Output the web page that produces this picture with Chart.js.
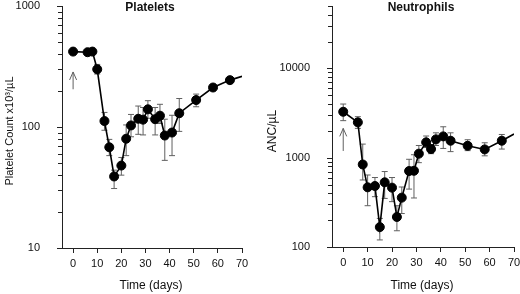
<!DOCTYPE html>
<html>
<head>
<meta charset="utf-8">
<script src="https://cdn.jsdelivr.net/npm/chart.js@4.4.0/dist/chart.umd.min.js"></script>
<style>
  body { margin: 0; background: #fff; }
  .panel { position: absolute; top: 0; width: 260px; height: 294px; }
</style>
</head>
<body>
<div class="panel" style="left:0"><canvas id="platelets" width="260" height="294"></canvas></div>
<div class="panel" style="left:260px"><canvas id="neutrophils" width="260" height="294"></canvas></div>
<script>
const days = [0, 6, 8, 10, 13, 15, 17, 20, 22, 24, 27, 29, 31, 34, 36, 38, 41, 44, 51, 58, 65];
const dayTicks = [0, 10, 20, 30, 40, 50, 60, 70];

const platelets = [420, 415, 420, 300, 112, 68, 39, 48, 80, 103, 117, 115, 140, 116, 124, 85, 90, 130, 167, 212, 244];
const plateletErr = [null, null, null, [274, 329], [94, 132], [58, 79], [31, 44], [40, 56], [58, 104], [83, 127],
  [87, 149], [86, 145], [118, 165], [86, 145], [107, 154], [53, 116], [58, 125], [92, 172], [147, 187], null, null];

const anc = [3270, 2490, 840, 466, 482, 167, 530, 462, 217, 357, 709, 714, 1110, 1486, 1250, 1604, 1733, 1550, 1360, 1238, 1550];
const ancErr = [[2600, 3990], [2130, 2880], [563, 1420], [290, 640], [366, 600], [120, 209], [350, 700], [322, 600],
  [152, 290], [237, 470], [445, 960], [354, 1080], [880, 1370], [1300, 1750], [1110, 1400], [1370, 1900],
  [1270, 2220], [1170, 1900], [1200, 1590], [1050, 1470], [1250, 1820]];

// line carries on past the last dot to the axis end
const lastDay = 70;
const plateletLast = 262;
const ancLast = 1840;

// treatment arrow at day 0
const arrowDay = 0;
const plateletArrow = [205, 285];
const ancArrow = [1190, 2130];

Chart.defaults.font.family = '"Liberation Sans", Arial, sans-serif';
Chart.defaults.color = '#111';

function isDecade(v) {
  const p = Math.log10(v);
  return Math.abs(p - Math.round(p)) < 1e-6;
}

const extras = {
  id: 'extras',
  beforeDatasetsDraw(chart, args, opts) {
    const ctx = chart.ctx;
    const x = chart.scales.x, y = chart.scales.y;
    ctx.save();

    // log ticks on the y axis, 1..9 per decade
    ctx.strokeStyle = '#222';
    ctx.lineWidth = 1;
    ctx.beginPath();
    for (let dec = y.min; dec < y.max; dec *= 10) {
      for (let k = 1; k <= 10; k++) {
        const v = dec * k;
        if (v > y.max * 1.0001) break;
        const py = Math.round(y.getPixelForValue(v)) + 0.5;
        const len = isDecade(v) ? 5 : 4;
        ctx.moveTo(y.right - len, py);
        ctx.lineTo(y.right, py);
      }
    }
    ctx.stroke();

    ctx.strokeStyle = '#606060';
    ctx.beginPath();
    opts.errors.forEach((e, i) => {
      if (!e) return;
      const px = x.getPixelForValue(days[i]);
      const lo = y.getPixelForValue(e[0]);
      const hi = y.getPixelForValue(e[1]);
      ctx.moveTo(px, lo); ctx.lineTo(px, hi);
      ctx.moveTo(px - 3, lo); ctx.lineTo(px + 3, lo);
      ctx.moveTo(px - 3, hi); ctx.lineTo(px + 3, hi);
    });
    ctx.stroke();

    const ax = x.getPixelForValue(arrowDay);
    const a0 = y.getPixelForValue(opts.arrow[0]);
    const a1 = y.getPixelForValue(opts.arrow[1]);
    ctx.beginPath();
    ctx.moveTo(ax, a0); ctx.lineTo(ax, a1);
    ctx.moveTo(ax - 3.5, a1 + 8); ctx.lineTo(ax, a1); ctx.lineTo(ax + 3.5, a1 + 8);
    ctx.stroke();
    ctx.restore();
  },
  afterDraw(chart, args, opts) {
    const ctx = chart.ctx;
    const area = chart.chartArea;
    const cx = (area.left + area.right) / 2;
    ctx.save();
    ctx.fillStyle = '#111';
    ctx.textAlign = 'center';
    ctx.textBaseline = 'middle';
    ctx.font = 'bold 12px "Liberation Sans", Arial, sans-serif';
    ctx.fillText(opts.title, cx - 2, 8);
    ctx.font = '12px "Liberation Sans", Arial, sans-serif';
    ctx.fillText('Time (days)', cx - 1, 286);
    ctx.translate(opts.yTitleX, 131);
    ctx.rotate(-Math.PI / 2);
    ctx.font = opts.yTitleSize + 'px "Liberation Sans", Arial, sans-serif';
    ctx.fillText(opts.yTitle, 0, 0);
    ctx.restore();
  }
};

function makeChart(id, values, errors, last, arrow, yMin, yMax, yWidth, padRight, xHeight, title, yTitle, yTitleX, yTitleSize) {
  const points = days.map((d, i) => ({ x: d, y: values[i] }));
  points.push({ x: lastDay, y: last });
  const n = days.length;

  return new Chart(document.getElementById(id), {
    type: 'line',
    data: {
      datasets: [{
        data: points,
        borderColor: '#000',
        borderWidth: 1.6,
        backgroundColor: '#000',
        pointBackgroundColor: '#000',
        pointBorderColor: '#000',
        pointBorderWidth: 1,
        pointRadius: c => c.dataIndex === n ? 0 : 4.5,
        tension: 0
      }]
    },
    options: {
      responsive: false,
      animation: false,
      events: [],
      layout: { padding: { top: 6, right: padRight, left: 0, bottom: 0 } },
      scales: {
        x: {
          type: 'linear',
          min: -4.6,
          max: 70,
          afterBuildTicks: s => { s.ticks = dayTicks.map(v => ({ value: v })); },
          afterFit: s => { s.height = xHeight; s.paddingLeft = 0; s.paddingRight = 0; },
          grid: { drawOnChartArea: false, tickLength: 5, color: '#222' },
          border: { color: '#222', width: 1 },
          ticks: { font: { size: 11, lineHeight: 1 }, padding: 5, autoSkip: false, maxRotation: 0 }
        },
        y: {
          type: 'logarithmic',
          min: yMin,
          max: yMax,
          afterFit: s => { s.width = yWidth; s.paddingTop = 0; s.paddingBottom = 0; },
          grid: { display: false },
          border: { color: '#222', width: 1 },
          ticks: {
            font: { size: 11, lineHeight: 1 },
            padding: 14,
            autoSkip: false,
            callback: v => isDecade(v) ? String(Math.round(v)) : ''
          }
        }
      },
      plugins: {
        legend: { display: false },
        tooltip: { enabled: false },
        extras: { errors, arrow, title, yTitle, yTitleX, yTitleSize }
      }
    },
    plugins: [extras]
  });
}

makeChart('platelets', platelets, plateletErr, plateletLast, plateletArrow, 10, 1000, 62, 18, 46,
  'Platelets', 'Platelet Count x10³/µL', 10, 11);
makeChart('neutrophils', anc, ancErr, ancLast, ancArrow, 100, 50000, 72, 6, 47,
  'Neutrophils', 'ANC/µL', 13, 12);
</script>
</body>
</html>
